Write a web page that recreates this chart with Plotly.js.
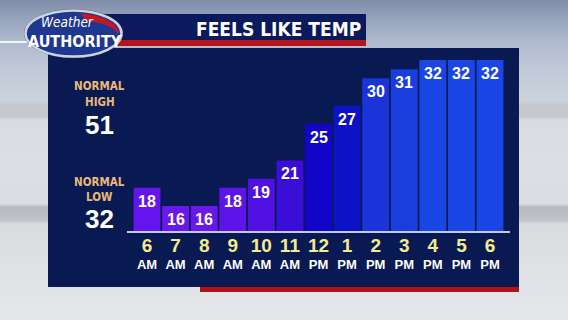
<!DOCTYPE html>
<html><head><meta charset="utf-8">
<script src="https://cdn.plot.ly/plotly-3.0.1.min.js"></script>
<style>
html,body{margin:0;padding:0;width:568px;height:320px;overflow:hidden;}
body{background:
 linear-gradient(to bottom,
  #7f8daa 0px,#95a2bb 18px,#aeb9cc 40px,#c2cad8 70px,#ccd3de 100px,
  #c3c6cc 106px,#c9cbd0 117px,#d8dbe1 120px,#dcdfe4 170px,#dadce1 204px,
  #b6b9bf 207px,#bfc2c7 220px,#d9dbdf 224px,#e0e1e4 270px,#e6e7ea 320px);}
#chart{width:568px;height:320px;}
</style></head><body><div id="chart"></div>
<script>
// ---- data ----
const categories = ['6 AM','7 AM','8 AM','9 AM','10 AM','11 AM','12 PM','1 PM','2 PM','3 PM','4 PM','5 PM','6 PM'];
const hours = ['6','7','8','9','10','11','12','1','2','3','4','5','6'];
const meridiem = ['AM','AM','AM','AM','AM','AM','PM','PM','PM','PM','PM','PM','PM'];
const feelsLike = [18,16,16,18,19,21,25,27,30,31,32,32,32];
const normalHigh = 51;
const normalLow = 32;
const chartTitle = 'FEELS LIKE TEMP';

// ---- styles ----
const barColors = ['#6414ec','#6818ea','#6818ea','#5e14e8','#5010e2','#3a0ed6','#1204c8','#0c12c6','#1a34da','#1a3ede','#1a46e6','#1a46e6','#1a46e6'];
const L = 127, R = 510, T = 50, B = 231;
const fx = x => (x - L) / (R - L);
const fy = y => (B - y) / (B - T);
const cond = '"DejaVu Sans Condensed","Liberation Sans Narrow","Liberation Sans",sans-serif';
const sans = '"Liberation Sans",Arial,sans-serif';

const ticktext = hours.map((h, i) =>
  '<span style="color:#f3ea92;font-size:19px">' + h + '</span><br>' + meridiem[i]);

function rect(x0, y0, x1, y1, color) {
  return {type:'rect', xref:'paper', yref:'paper', x0:fx(x0), x1:fx(x1), y0:fy(y1), y1:fy(y0),
          fillcolor:color, line:{width:0}, layer:'below'};
}
// red swoosh on logo (crescent) in pixel space -> paper
function crescent() {
  const cx = 73.5, cy = 33.5;
  let pts = [];
  for (let a = 5; a <= 80; a += 5) {
    const t = a * Math.PI / 180;
    pts.push([cx + 45.5 * Math.cos(t), cy - 20.5 * Math.sin(t)]);
  }
  for (let a = 80; a >= 5; a -= 5) {
    const t = a * Math.PI / 180;
    pts.push([cx + 4 + 40 * Math.cos(t), cy + 2 - 15 * Math.sin(t)]);
  }
  return 'M' + pts.map(p => fx(p[0]) + ',' + fy(p[1])).join('L') + 'Z';
}

const shapes = [
  rect(48, 48, 519, 287, '#091a52'),
  rect(200, 287, 519, 292, '#b0121a'),
  rect(0, 41, 40, 43, '#f2f4f8'),
  rect(60, 14, 366, 40, '#0b1a5c'),
  rect(100, 40, 366, 46, '#b4141c'),
  {type:'circle', xref:'paper', yref:'paper', x0:fx(24), x1:fx(123), y0:fy(58), y1:fy(9),
   fillcolor:'#3a4a70', line:{width:0}, layer:'below'},
  {type:'circle', xref:'paper', yref:'paper', x0:fx(25.5), x1:fx(121.5), y0:fy(56.5), y1:fy(10.5),
   fillcolor:'#1e3790', line:{color:'#cfd3dc', width:2.5}, layer:'below'},
  {type:'path', xref:'paper', yref:'paper', path:crescent(), fillcolor:'#c0182a', line:{width:0}, layer:'below'}
];

function note(x, y, text, family, size, color) {
  return {xref:'paper', yref:'paper', x:fx(x), y:fy(y), text:text, showarrow:false,
          font:{family:family, size:size, color:color}, xanchor:'center', yanchor:'middle', borderpad:0};
}
const annotations = [
  note(278.5, 28.5, '<b>'+chartTitle+'</b>', cond, 19, '#ffffff'),
  note(67, 22, '<i>Weather</i>', cond, 13.5, '#ffffff'),
  note(75, 41.5, '<b>AUTHORITY</b>', cond, 16, '#ffffff'),
  note(99.5, 86, '<b>NORMAL</b>', cond, 11.5, '#e9b878'),
  note(99.5, 101.5, '<b>HIGH</b>', cond, 11.5, '#e9b878'),
  note(99.5, 125, '<b>'+normalHigh+'</b>', sans, 26, '#ffffff'),
  note(99.5, 181.5, '<b>NORMAL</b>', cond, 11.5, '#e9b878'),
  note(99.5, 196.5, '<b>LOW</b>', cond, 11.5, '#e9b878'),
  note(99.5, 219, '<b>'+normalLow+'</b>', sans, 26, '#ffffff')
];
feelsLike.forEach((v, i) => annotations.push({
  xref:'x', yref:'y', x:categories[i], y:v, text:'<b>'+v+'</b>', showarrow:false,
  xanchor:'center', yanchor:'top', yshift:-3,
  font:{family:sans, size:16, color:'#ffffff'}
}));

const trace = {
  type:'bar', x:categories, y:feelsLike,
  marker:{color:barColors, line:{width:0}},
  hoverinfo:'skip'
};

const layout = {
  width:568, height:320,
  margin:{l:L, r:568-R, t:T, b:320-B, pad:0},
  paper_bgcolor:'rgba(0,0,0,0)', plot_bgcolor:'rgba(0,0,0,0)',
  showlegend:false, bargap:0.06,
  xaxis:{type:'category', range:[-0.7, 12.7], showgrid:false, zeroline:false,
         showline:true, linecolor:'#c4cbe0', linewidth:2, ticks:'', ticklabelstandoff:3,
         tickmode:'array', tickvals:categories, ticktext:ticktext,
         tickfont:{family:sans, size:13, color:'#ffffff', weight:'bold'}, fixedrange:true},
  yaxis:{range:[13.26, 33.1], visible:false, showgrid:false, zeroline:false, fixedrange:true},
  shapes:shapes, annotations:annotations, hovermode:false
};

Plotly.newPlot('chart', [trace], layout, {staticPlot:true, displayModeBar:false});
</script></body></html>
